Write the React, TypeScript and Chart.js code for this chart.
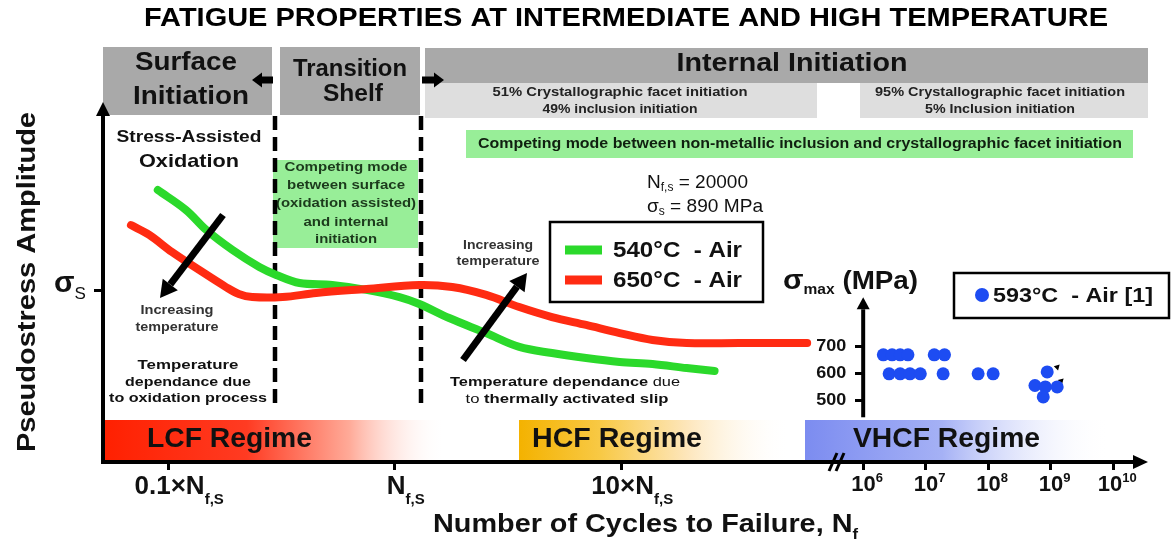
import React, { useEffect, useRef } from 'react';
import { Chart, registerables } from 'chart.js';

Chart.register(...registerables);

const FONT = '"Liberation Sans", Arial, Helvetica, sans-serif';
const B = (s: number) => `bold ${s}px ${FONT}`;
const R = (s: number) => `${s}px ${FONT}`;

// ---------- data ----------
const NF_S = 20000; // cycles
const SIGMA_S = 890; // MPa
const mainTickCycles = [0.1 * NF_S, NF_S, 10 * NF_S];
const mainTickLabels = ['0.1×N', 'N', '10×N'];
const mainTickSub = 'f,S';
const insetTickCycles = [1e6, 1e7, 1e8, 1e9, 1e10];
const insetTickExp = ['6', '7', '8', '9', '10'];
const insetStressTicks = [500, 600, 700];
const seriesLabels = ['540°C  - Air', '650°C  - Air', '593°C  - Air [1]'];

const cycles540 = [1800, 2400, 2950, 3850, 5050, 6000, 7600, 10600, 15000, 21000, 25700, 34800, 50700, 71000, 99000, 140000, 197000, 275000, 389000, 517000];
const stress540 = [1413, 1309, 1205, 1101, 1013, 972, 930, 920, 894, 857, 821, 748, 670, 598, 566, 540, 520, 509, 488, 473];

const cycles650 = [1370, 1650, 2080, 2740, 3600, 4100, 4700, 6400, 9000, 15000, 25700, 35900, 50700, 71000, 99000, 140000, 197000, 275000, 389000, 664000, 1325000];
const stress650 = [1231, 1180, 1091, 998, 909, 873, 857, 857, 878, 899, 920, 909, 868, 805, 753, 712, 670, 634, 618, 618, 618];

const cycles593 = [2.1e6, 2.9e6, 3.9e6, 5.2e6, 1.37e7, 2.0e7, 2.6e6, 3.9e6, 5.6e6, 8.2e6, 1.9e7, 6.9e7, 1.2e8, 8.8e8, 5.6e8, 8.2e8, 1.27e9, 7.6e8];
const stress593 = [670, 670, 670, 670, 670, 670, 600, 600, 600, 600, 600, 600, 600, 607, 557, 552, 552, 515];

const runoutCycles = [1.27e9, 1.47e9];
const runoutStress = [625, 574];

// ---------- helpers ----------
type Run = { t: string; f: string; dy?: number };
function runs(ctx: CanvasRenderingContext2D, list: Run[], x: number, y: number, align: 'left' | 'center' | 'right' = 'left', color = '#000', w?: number) {
  ctx.save();
  ctx.fillStyle = color;
  ctx.textBaseline = 'middle';
  ctx.textAlign = 'left';
  const widths = list.map((r) => { ctx.font = r.f; return ctx.measureText(r.t).width; });
  const total = widths.reduce((a, b) => a + b, 0);
  const sx = w ? w / total : 1;
  const tw = total * sx;
  const x0 = align === 'left' ? x : align === 'center' ? x - tw / 2 : x - tw;
  ctx.translate(x0, y);
  ctx.scale(sx, 1);
  let cx = 0;
  list.forEach((r, i) => { ctx.font = r.f; ctx.fillText(r.t, cx, r.dy || 0); cx += widths[i]; });
  ctx.restore();
}
function text(ctx: CanvasRenderingContext2D, t: string, x: number, y: number, f: string, align: 'left' | 'center' | 'right' = 'center', color = '#000', w?: number) {
  runs(ctx, [{ t, f }], x, y, align, color, w);
}
function arrow(ctx: CanvasRenderingContext2D, x1: number, y1: number, x2: number, y2: number, lw: number, hl: number, hw: number, color = '#000') {
  const a = Math.atan2(y2 - y1, x2 - x1);
  const bx = x2 - hl * Math.cos(a);
  const by = y2 - hl * Math.sin(a);
  ctx.save();
  ctx.strokeStyle = color; ctx.fillStyle = color; ctx.lineWidth = lw; ctx.lineCap = 'butt';
  ctx.beginPath(); ctx.moveTo(x1, y1); ctx.lineTo(bx, by); ctx.stroke();
  ctx.beginPath();
  ctx.moveTo(x2, y2);
  ctx.lineTo(bx + (hw / 2) * Math.sin(a), by - (hw / 2) * Math.cos(a));
  ctx.lineTo(bx - (hw / 2) * Math.sin(a), by + (hw / 2) * Math.cos(a));
  ctx.closePath(); ctx.fill();
  ctx.restore();
}
function hGrad(ctx: CanvasRenderingContext2D, x0: number, x1: number, stops: [number, string][]) {
  const g = ctx.createLinearGradient(x0, 0, x1, 0);
  stops.forEach(([o, c]) => g.addColorStop(o, c));
  return g;
}

// ---------- decoration plugin ----------
const decor = {
  id: 'decor',
  beforeDraw(chart: any) {
    const ctx: CanvasRenderingContext2D = chart.ctx;
    const ca = chart.chartArea;
    ctx.save();
    ctx.fillStyle = '#fff';
    ctx.fillRect(0, 0, chart.width, chart.height);

    text(ctx, 'FATIGUE PROPERTIES AT INTERMEDIATE AND HIGH TEMPERATURE', 626, 19, B(25), 'center', '#000', 964);

    // banners
    ctx.fillStyle = '#a9a9a9';
    ctx.fillRect(103, 47, 169, 68);
    ctx.fillRect(280, 47, 140, 68);
    ctx.fillRect(425, 48, 723, 35);
    ctx.fillStyle = '#dedede';
    ctx.fillRect(425, 83, 392, 35);
    ctx.fillRect(860, 83, 288, 35);
    text(ctx, 'Surface', 186, 63, B(26), 'center', '#111', 102);
    text(ctx, 'Initiation', 191, 97, B(26), 'center', '#111', 116);
    text(ctx, 'Transition', 350, 70, B(23), 'center', '#111', 114);
    text(ctx, 'Shelf', 353, 95, B(23), 'center', '#111', 60);
    text(ctx, 'Internal Initiation', 792, 64, B(26), 'center', '#111', 231);
    text(ctx, '51% Crystallographic facet initiation', 620, 93, B(12), 'center', '#222', 255);
    text(ctx, '49% inclusion initiation', 620, 110, B(12), 'center', '#222', 155);
    text(ctx, '95% Crystallographic facet initiation', 1000, 93, B(12), 'center', '#222', 250);
    text(ctx, '5% Inclusion initiation', 1000, 110, B(12), 'center', '#222', 150);
    arrow(ctx, 273, 80, 252, 80, 7, 10, 15);
    arrow(ctx, 422, 80, 444, 80, 7, 10, 15);

    // regime bars
    const top = 420;
    const h = ca.bottom - top;
    ctx.fillStyle = hGrad(ctx, 103, 445, [[0, '#ff2000'], [0.42, '#ff3b22'], [0.72, '#ffaa98'], [1, 'rgba(255,255,255,0)']]);
    ctx.fillRect(103, top, 342, h);
    ctx.fillStyle = hGrad(ctx, 519, 790, [[0, '#f4b200'], [0.3, '#f8c945'], [0.62, '#fde6bb'], [1, 'rgba(255,255,255,0)']]);
    ctx.fillRect(519, top, 271, h);
    ctx.fillStyle = hGrad(ctx, 805, 1110, [[0, '#7c8cf0'], [0.45, '#a5b1f5'], [1, 'rgba(255,255,255,0)']]);
    ctx.fillRect(805, top, 305, h);
    text(ctx, 'LCF Regime', 147, 439, B(28), 'left', '#111', 165);
    text(ctx, 'HCF Regime', 532, 439, B(28), 'left', '#111', 170);
    text(ctx, 'VHCF Regime', 853, 439, B(28), 'left', '#111', 187);
    ctx.restore();
  },
  beforeDatasetsDraw(chart: any) {
    const ctx: CanvasRenderingContext2D = chart.ctx;
    ctx.save();
    ctx.fillStyle = '#98ee98';
    ctx.fillRect(466, 130, 667, 28);
    ctx.fillRect(273, 160, 145, 88);
    text(ctx, 'Competing mode between non-metallic inclusion and crystallographic facet initiation', 800, 144, B(14), 'center', '#102010', 644);
    const gl = ['Competing mode', 'between surface', '(oxidation assisted)', 'and internal', 'initiation'];
    const gy = [167, 185, 203, 222, 239];
    const gw = [123, 118, 140, 85, 62];
    gl.forEach((t, i) => text(ctx, t, 346, gy[i], B(13), 'center', '#1c3a1c', gw[i]));
    // dashed separators
    ctx.strokeStyle = '#000';
    ctx.lineWidth = 4.5;
    ctx.setLineDash([14, 7]);
    [275, 421].forEach((x) => { ctx.beginPath(); ctx.moveTo(x, 116); ctx.lineTo(x, 410); ctx.stroke(); });
    ctx.setLineDash([]);
    ctx.restore();
  },
  afterDatasetsDraw(chart: any) {
    const ctx: CanvasRenderingContext2D = chart.ctx;
    const { x, y, x2, y2 } = chart.scales;
    const ca = chart.chartArea;
    ctx.save();

    // left annotations
    text(ctx, 'Stress-Assisted', 189, 138, B(16), 'center', '#111', 145);
    text(ctx, 'Oxidation', 189, 162, B(19), 'center', '#111', 100);
    text(ctx, 'Increasing', 177, 311, B(12), 'center', '#333', 73);
    text(ctx, 'temperature', 177, 328, B(12), 'center', '#333', 83);
    text(ctx, 'Temperature', 188, 365, B(13), 'center', '#111', 101);
    text(ctx, 'dependance due', 188, 382, B(13), 'center', '#111', 126);
    text(ctx, 'to oxidation process', 188, 398, B(13), 'center', '#111', 158);
    arrow(ctx, 223, 215, 160, 298, 7, 17, 19);

    // middle annotations
    text(ctx, 'Increasing', 498, 246, B(12), 'center', '#333', 70);
    text(ctx, 'temperature', 498, 262, B(12), 'center', '#333', 83);
    arrow(ctx, 463, 360, 527, 273, 7, 17, 19);
    runs(ctx, [{ t: 'Temperature dependance', f: B(13) }, { t: ' due', f: R(13) }], 565, 382, 'center', '#111', 230);
    runs(ctx, [{ t: 'to ', f: R(13) }, { t: 'thermally activated slip', f: B(13) }], 567, 399, 'center', '#111', 203);
    runs(ctx, [{ t: 'N', f: R(19) }, { t: 'f,s', f: R(12), dy: 5 }, { t: ' = ' + NF_S, f: R(19) }], 647, 183, 'left', '#111', 101);
    runs(ctx, [{ t: 'σ', f: R(19) }, { t: 's', f: R(12), dy: 5 }, { t: ' = ' + SIGMA_S + ' MPa', f: R(19) }], 647, 207, 'left', '#111', 116);

    // legend 1
    const ds = chart.data.datasets;
    ctx.lineWidth = 2.5; ctx.strokeStyle = '#000';
    ctx.strokeRect(550, 222, 213, 80);
    [0, 1].forEach((i) => {
      const ly = 250 + i * 30;
      ctx.save();
      ctx.strokeStyle = ds[i].borderColor; ctx.lineWidth = 9;
      ctx.beginPath(); ctx.moveTo(565, ly); ctx.lineTo(602, ly); ctx.stroke();
      ctx.restore();
      text(ctx, ds[i].label, 613, ly + 1, B(22), 'left', '#111', 129);
    });

    // inset axis
    const ax = x2.getPixelForValue(insetTickCycles[0]);
    const yb = y2.getPixelForValue(440);
    const yt = y2.getPixelForValue(860);
    arrow(ctx, ax, yb, ax, yt - 6, 4, 12, 13);
    insetStressTicks.forEach((v) => text(ctx, String(v), ax - 17, y2.getPixelForValue(v), B(16), 'right', '#111', 30));
    runs(ctx, [{ t: 'σ', f: B(27) }, { t: 'max', f: B(14), dy: 8 }, { t: ' (MPa)', f: B(25) }], 783, 282, 'left', '#111', 135);

    // legend 2
    ctx.lineWidth = 2.5; ctx.strokeStyle = '#000';
    ctx.strokeRect(954, 273, 215, 45);
    ctx.fillStyle = ds[2].backgroundColor;
    ctx.beginPath(); ctx.arc(982, 295, 7, 0, Math.PI * 2); ctx.fill();
    text(ctx, ds[2].label, 993, 296, B(20), 'left', '#111', 160);

    // main y axis arrow + sigma_s label
    ctx.fillStyle = '#000';
    ctx.beginPath();
    ctx.moveTo(ca.left, ca.top - 8);
    ctx.lineTo(ca.left - 7, ca.top + 6);
    ctx.lineTo(ca.left + 7, ca.top + 6);
    ctx.closePath(); ctx.fill();
    const sy = y.getPixelForValue(SIGMA_S);
    runs(ctx, [{ t: 'σ', f: B(30) }, { t: 'S', f: R(17), dy: 11 }], 54, sy - 7, 'left', '#111');

    // x axis arrow + break
    ctx.beginPath();
    ctx.moveTo(ca.right + 8, ca.bottom);
    ctx.lineTo(ca.right - 7, ca.bottom - 7);
    ctx.lineTo(ca.right - 7, ca.bottom + 7);
    ctx.closePath(); ctx.fill();
    ctx.lineWidth = 3;
    ctx.beginPath(); ctx.moveTo(829, ca.bottom + 9); ctx.lineTo(837, ca.bottom - 9); ctx.stroke();
    ctx.beginPath(); ctx.moveTo(836, ca.bottom + 9); ctx.lineTo(844, ca.bottom - 9); ctx.stroke();

    // main x tick labels
    mainTickCycles.forEach((v, i) => {
      const px = x.getPixelForValue(v);
      runs(ctx, [{ t: mainTickLabels[i], f: B(26) }, { t: mainTickSub, f: B(15), dy: 13 }], px + 11, 487, 'center', '#111');
    });
    // inset x tick labels
    insetTickCycles.forEach((v, i) => {
      const px = x2.getPixelForValue(v);
      runs(ctx, [{ t: '10', f: B(22) }, { t: insetTickExp[i], f: B(13), dy: -7 }], px + 4, 485, 'center', '#111');
    });

    // axis titles
    runs(ctx, [{ t: 'Number of Cycles to Failure, N', f: B(26) }, { t: 'f', f: B(15), dy: 10 }], 433, 525, 'left', '#111', 425);
    ctx.save();
    ctx.translate(28, 282);
    ctx.rotate(-Math.PI / 2);
    text(ctx, 'Pseudostress Amplitude', 0, 0, B(26), 'center', '#111', 340);
    ctx.restore();

    ctx.restore();
  },
};

const tickGrid = { display: true, drawOnChartArea: false, drawTicks: true, tickLength: 8, lineWidth: 3, color: '#000' };

export default function App() {
  const ref = useRef<HTMLCanvasElement>(null);
  useEffect(() => {
    document.body.style.margin = '0';
    const canvas = ref.current!;
    const chart = new Chart(canvas, {
      type: 'line',
      data: {
        datasets: [
          {
            type: 'line', label: seriesLabels[0],
            data: cycles540.map((c, i) => ({ x: c, y: stress540[i] })),
            xAxisID: 'x', yAxisID: 'y', borderColor: '#2bd92b', borderWidth: 8,
            pointRadius: 0, tension: 0.35, fill: false, borderCapStyle: 'round', order: 1,
          },
          {
            type: 'line', label: seriesLabels[1],
            data: cycles650.map((c, i) => ({ x: c, y: stress650[i] })),
            xAxisID: 'x', yAxisID: 'y', borderColor: '#ff2b12', borderWidth: 8,
            pointRadius: 0, tension: 0.35, fill: false, borderCapStyle: 'round', order: 0,
          },
          {
            type: 'scatter', label: seriesLabels[2],
            data: cycles593.map((c, i) => ({ x: c, y: stress593[i] })),
            xAxisID: 'x2', yAxisID: 'y2', pointRadius: 6.5, backgroundColor: '#1d4cf2', borderWidth: 0, order: 2,
          },
          {
            type: 'scatter', label: 'run-out',
            data: runoutCycles.map((c, i) => ({ x: c, y: runoutStress[i] })),
            xAxisID: 'x2', yAxisID: 'y2', pointStyle: 'triangle', rotation: 45, pointRadius: 3.5,
            backgroundColor: '#000', borderWidth: 0, order: 3,
          },
        ] as any,
      },
      options: {
        responsive: false,
        animation: false,
        devicePixelRatio: 1,
        events: [],
        layout: { padding: { left: 103, top: 110, right: 31, bottom: 83 } },
        plugins: { legend: { display: false }, tooltip: { enabled: false }, title: { display: false } },
        scales: {
          x: {
            type: 'logarithmic', position: 'bottom',
            min: Math.pow(10, 3.0133), max: Math.pow(10, 7.5917),
            afterFit: (s: any) => { s.height = 0; },
            afterBuildTicks: (s: any) => { s.ticks = mainTickCycles.map((v) => ({ value: v })); },
            ticks: { display: false, callback: () => '' },
            grid: tickGrid,
            border: { display: true, color: '#000', width: 4 },
          },
          y: {
            type: 'linear', position: 'left',
            min: 0, max: 1828.9,
            afterFit: (s: any) => { s.width = 0; },
            afterBuildTicks: (s: any) => { s.ticks = [{ value: SIGMA_S }]; },
            ticks: { display: false },
            grid: { ...tickGrid, tickLength: 9 },
            border: { display: true, color: '#000', width: 4 },
          },
          x2: {
            type: 'logarithmic', position: { y: 0 },
            min: Math.pow(10, -6.163), max: Math.pow(10, 10.429),
            afterBuildTicks: (s: any) => { s.ticks = insetTickCycles.map((v) => ({ value: v })); },
            ticks: { display: false, callback: () => '' },
            grid: tickGrid,
            border: { display: false },
          },
          y2: {
            type: 'linear', position: { x2: 1e6 },
            min: 275.3, max: 1571.8,
            afterBuildTicks: (s: any) => { s.ticks = insetStressTicks.map((v) => ({ value: v })); },
            ticks: { display: false },
            grid: tickGrid,
            border: { display: false },
          },
        } as any,
      },
      plugins: [decor],
    } as any);
    return () => chart.destroy();
  }, []);
  return (
    <div style={{ width: 1171, height: 545, position: 'relative' }}>
      <canvas ref={ref} width={1171} height={545} style={{ display: 'block' }} />
    </div>
  );
}
